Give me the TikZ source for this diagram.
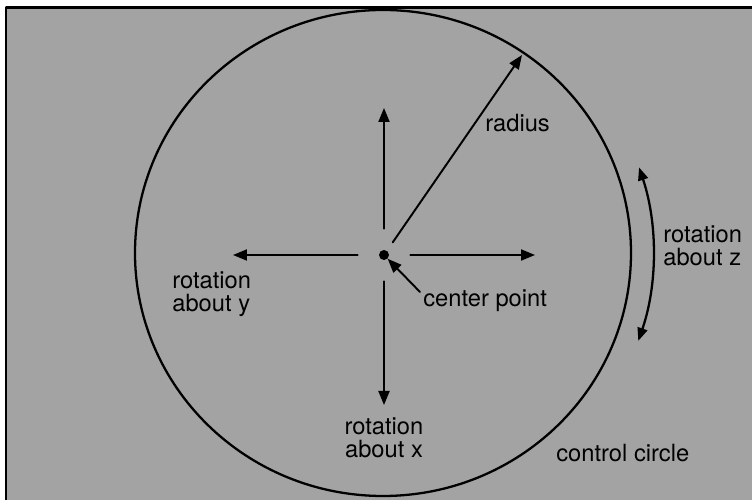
\documentclass[tikz,border=0pt]{standalone}
\usepackage{fontspec}
\setmainfont{TeX Gyre Heros}
\usetikzlibrary{arrows.meta}
\begin{document}
\begin{tikzpicture}[x=0.02cm,y=0.02cm,line cap=round,line join=round,
		font=\fontsize{13.5}{13.1}\selectfont,
		lbl/.style={inner sep=0pt,align=left},
		arr/.style={-{Triangle[length=0.28cm,width=0.22cm]},line width=1.1pt},
		dot/.style={circle,fill,inner sep=0pt,minimum size=0.2cm}]
	\useasboundingbox (0,0) rectangle (752,500);
	\fill[black!36] (6,-10) rectangle (760,492);
	\draw[line width=1.7pt] (6,-10) -- (6,492) -- (760,492);
	\def\rx{248}\def\ry{243}
	\coordinate (o) at (383,247);
	\draw[line width=1.3pt] (o) ellipse ({\rx} and {\ry});
	% centre point and the four axes
	\node[dot] (c) at (384,245) {};
	\coordinate (up) at (384,392);
	\coordinate (dn) at (384,95);
	\coordinate (lt) at (233,245);
	\coordinate (rt) at (535,245);
	\coordinate (rim) at (522,445);
	\foreach \p in {up,dn,lt,rt}{\draw[arr,shorten <=0.42cm] (c) -- (\p);}
	\draw[arr,shorten <=0.2cm] (c) -- (rim);
	% labels
	\node[lbl,anchor=base west] (rad) at (485,368) {radius};
	\node[lbl,anchor=base west] (cp) at (423,193) {center point};
	\coordinate (cpt) at (420,208);
	\draw[arr] (cpt) -- ([shift={(7,-8)}]c);
	\node[lbl,anchor=base west] (ry) at (172,188) {rotation\\about y};
	\node[lbl,anchor=base,align=center] (rx) at (384,42) {rotation\\about x};
	\node[lbl,anchor=base west] (rz) at (663,234) {rotation\\about z};
	\node[lbl,anchor=base west] (cc) at (556,38) {control circle};
	% rotation about z
	\draw[{Triangle[length=0.26cm,width=0.2cm]}-{Triangle[length=0.26cm,width=0.2cm]},line width=1.3pt]
		([shift={(-19:270)}]o) arc (-19:18.5:270);
\end{tikzpicture}
\end{document}
